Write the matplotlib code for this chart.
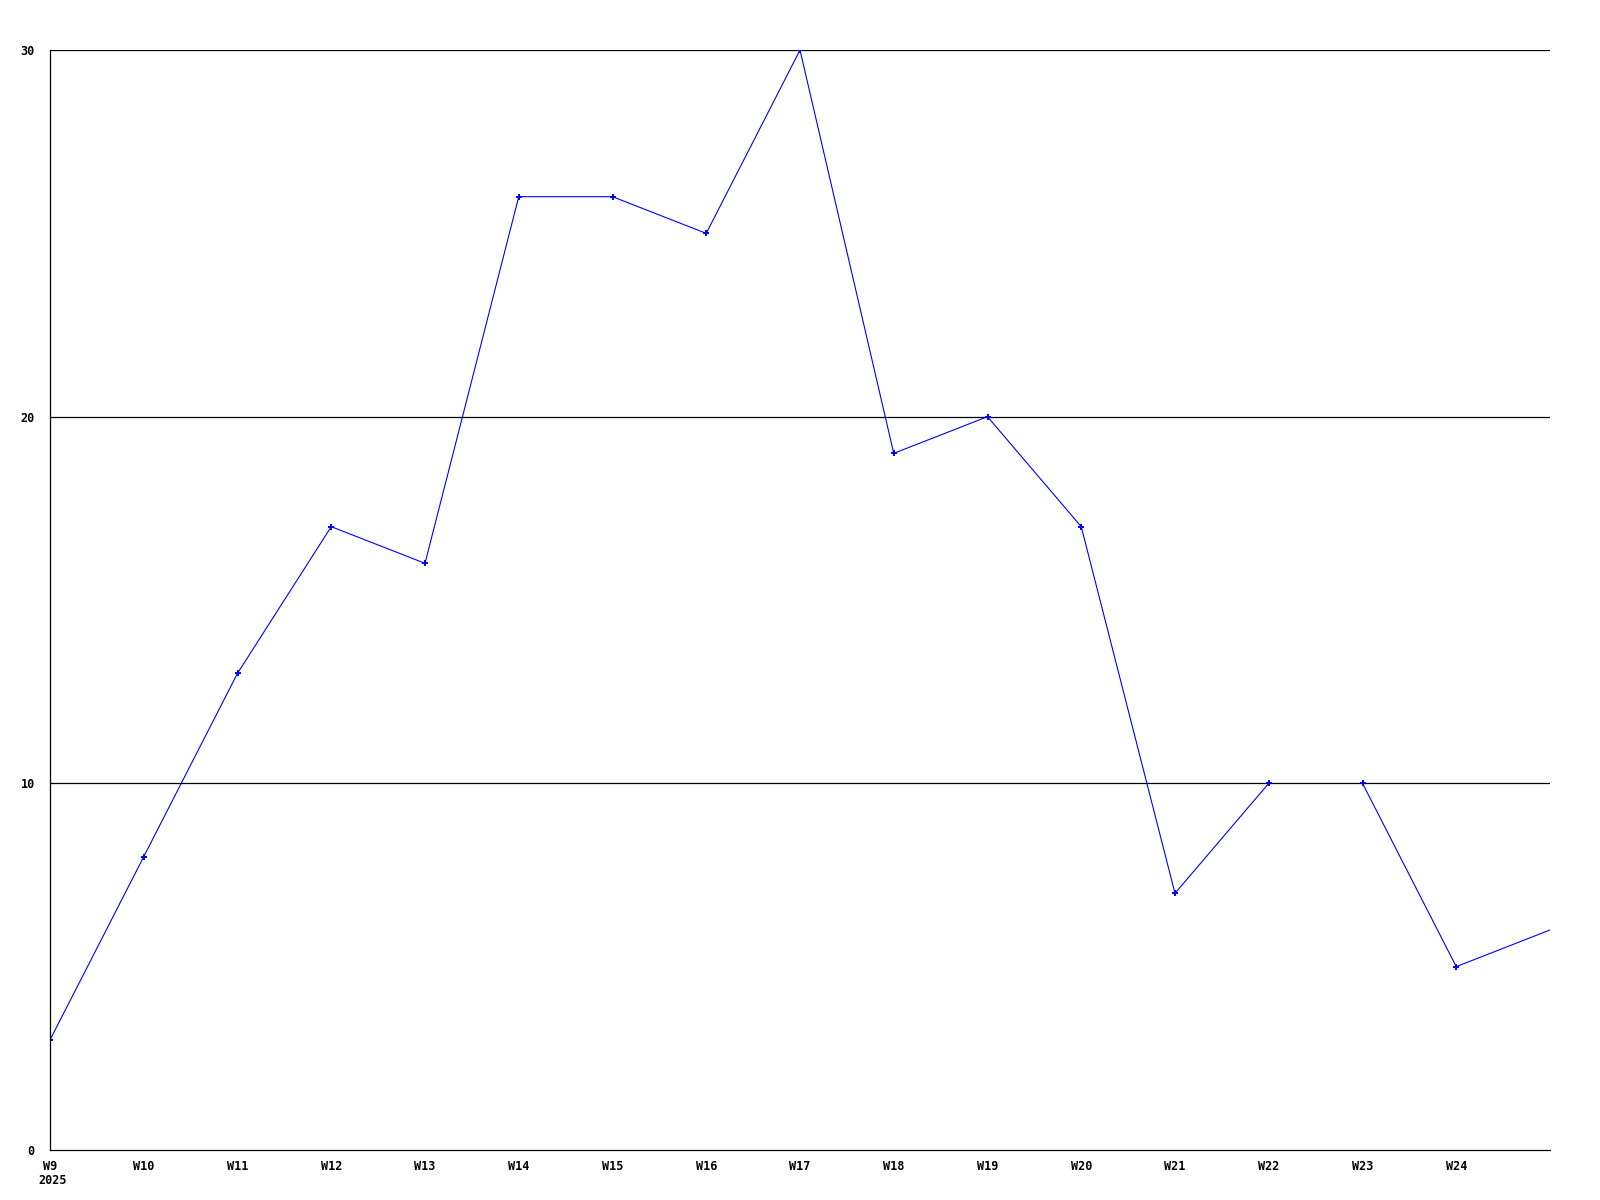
import numpy as np
import matplotlib
matplotlib.use("Agg")
from matplotlib import pyplot as plt

# weekly counts, 2025; W22 -> W23 has no connecting segment
weeks = ["W9", "W10", "W11", "W12", "W13", "W14", "W15", "W16",
         "W17", "W18", "W19", "W20", "W21", "W22", "W23", "W24", "W25"]
counts = [3, 8, 13, 17, 16, 26, 26, 25, 30, 19, 20, 17, 7, 10, 10, 5, 6]
break_after = "W22"
year_label = "2025"
y_ticks = [0, 10, 20, 30]


def main() -> None:
    fig = plt.figure(figsize=(16, 12), dpi=100)
    ax = fig.add_axes([0.03125, 0.0417, 0.9375, 0.9166])

    x = np.arange(len(weeks))
    cut = weeks.index(break_after) + 1
    y = np.array(counts, dtype=float)

    # first run: W9..W22
    ax.plot(x[:cut], y[:cut], color="#0000ff", linewidth=0.8,
            marker="+", markersize=4.5, markeredgewidth=1.4)
    # second run: W23..W25, last point sits on the right edge without a mark
    n2 = len(weeks) - cut
    ax.plot(x[cut:], y[cut:], color="#0000ff", linewidth=0.8,
            marker="+", markersize=4.5, markeredgewidth=1.4,
            markevery=list(range(n2 - 1)))

    ax.set_xlim(0, len(weeks) - 1)
    ax.set_ylim(0, 30)

    for v in y_ticks[1:]:
        ax.axhline(v, color="black", linewidth=0.9, zorder=0)

    font = dict(family="DejaVu Sans Mono", fontweight="bold", fontsize=8.5)
    ax.set_yticks(y_ticks)
    ax.set_yticklabels([str(v) for v in y_ticks], **font)
    ax.set_xticks(x[:-1])
    ax.set_xticklabels(weeks[:-1], **font)
    ax.tick_params(length=0, pad=7)
    ax.tick_params(axis="y", pad=11)
    ax.text(-0.12, -0.022, year_label, transform=ax.get_xaxis_transform(),
            ha="left", va="top", **font)

    for side in ("top", "right"):
        ax.spines[side].set_visible(False)
    for side in ("left", "bottom"):
        ax.spines[side].set_linewidth(0.9)

    fig.savefig("out.png", dpi=100)


if __name__ == "__main__":
    main()
